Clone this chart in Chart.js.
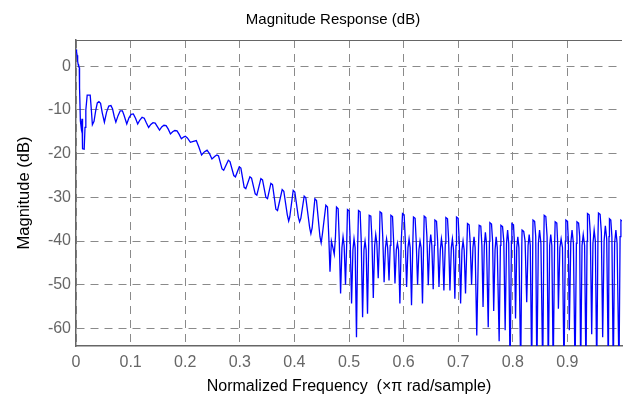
<!DOCTYPE html>
<html>
<head>
<meta charset="utf-8">
<script src="https://cdn.jsdelivr.net/npm/chart.js@4/dist/chart.umd.min.js"></script>
<style>
  html, body { margin: 0; padding: 0; background: #fff; }
  #wrap { width: 626px; height: 397px; }
</style>
</head>
<body>
<div id="wrap"><canvas id="c" width="626" height="397"></canvas></div>
<script>
// Normalized frequency (x pi rad/sample)
const freq = [
  0.000, 0.001, 0.002, 0.003, 0.004, 0.005, 0.006, 0.0065, 0.008, 0.0095,
  0.011, 0.012, 0.015, 0.0165, 0.018, 0.0205, 0.026, 0.028, 0.030, 0.033,
  0.036, 0.039, 0.042, 0.045, 0.048, 0.052, 0.056, 0.060, 0.064, 0.067,
  0.070, 0.073, 0.077, 0.081, 0.085, 0.088, 0.093, 0.097, 0.101, 0.105,
  0.109, 0.113, 0.117, 0.121, 0.125, 0.129, 0.133, 0.137, 0.141, 0.145,
  0.149, 0.153, 0.157, 0.161, 0.165, 0.169, 0.173, 0.177, 0.181, 0.185,
  0.189, 0.193, 0.197, 0.2002,
  0.2040, 0.2095, 0.2150, 0.2203, 0.2250, 0.2300, 0.2350, 0.2400, 0.2445, 0.2490,
  0.2545,
  0.2580, 0.2610, 0.2675, 0.2705,
  0.2790, 0.2820, 0.2890, 0.2920,
  0.2990, 0.3020, 0.3080, 0.3110,
  0.3185, 0.3215, 0.3282, 0.3312,
  0.3386, 0.3416, 0.3478, 0.3508,
  0.3569, 0.3599, 0.3661, 0.3691,
  0.3776, 0.3806, 0.3870, 0.3895, 0.3915,
  0.3978, 0.4008, 0.4072, 0.4095, 0.4118,
  0.4179, 0.4209, 0.4280, 0.4302, 0.4325,
  0.4375, 0.4405, 0.4468, 0.4490, 0.4512,
  0.4576, 0.4606, 0.4630, 0.4652, 0.4678, 0.4705, 0.4730, 0.4752,
  0.4771, 0.4801, 0.4821, 0.4846, 0.4871, 0.4891, 0.4911, 0.4936, 0.4958,
  0.4972, 0.5002, 0.5022, 0.5047, 0.5072, 0.5092, 0.5112, 0.5137, 0.5159,
  0.5174, 0.5204, 0.5224, 0.5249, 0.5274, 0.5294, 0.5314, 0.5339, 0.5361,
  0.5370, 0.5400, 0.5420, 0.5445, 0.5470, 0.5490, 0.5510, 0.5535, 0.5557,
  0.5568, 0.5598, 0.5618, 0.5643, 0.5668, 0.5688, 0.5708, 0.5733, 0.5755,
  0.5767, 0.5797, 0.5817, 0.5842, 0.5867, 0.5887, 0.5907, 0.5932, 0.5956,
  0.5980, 0.6010, 0.6030, 0.6055, 0.6080, 0.6100, 0.6120, 0.6145, 0.6168,
  0.6181, 0.6211, 0.6231, 0.6256, 0.6281, 0.6301, 0.6321, 0.6346, 0.6368,
  0.6377, 0.6407, 0.6427, 0.6452, 0.6477, 0.6497, 0.6517, 0.6542, 0.6564,
  0.6573, 0.6603, 0.6623, 0.6648, 0.6673, 0.6693, 0.6713, 0.6738, 0.6764,
  0.6774, 0.6804, 0.6824, 0.6849, 0.6874, 0.6894, 0.6914, 0.6939, 0.6960,
  0.6969, 0.6999, 0.7019, 0.7044, 0.7069, 0.7089, 0.7109, 0.7134, 0.7160,
  0.7170, 0.7200, 0.7220, 0.7245, 0.7270, 0.7290, 0.7310, 0.7340, 0.7372,
  0.7384, 0.7414, 0.7434, 0.7455, 0.7478, 0.7498, 0.7518, 0.7550, 0.7572,
  0.7580, 0.7610, 0.7630, 0.7650, 0.7675, 0.7695, 0.7715, 0.7750, 0.7773,
  0.7782, 0.7812, 0.7835, 0.7860, 0.7885, 0.7905, 0.7925, 0.7950, 0.7975,
  0.7983, 0.8013, 0.8030, 0.8050, 0.8072, 0.8092, 0.8112, 0.8145, 0.8165,
  0.8170, 0.8200, 0.8225, 0.8255, 0.8280, 0.8300, 0.8320, 0.8346, 0.8366,
  0.8370, 0.8400, 0.8420, 0.8440, 0.8468, 0.8490, 0.8515, 0.8548, 0.8568,
  0.8575, 0.8605, 0.8628, 0.8650, 0.8675, 0.8695, 0.8715, 0.8740, 0.8765,
  0.8776, 0.8806, 0.8820, 0.8835, 0.8862, 0.8885, 0.8910, 0.8938, 0.8962,
  0.8972, 0.9002, 0.9018, 0.9035, 0.9062, 0.9085, 0.9110, 0.9140, 0.9165,
  0.9175, 0.9205, 0.9225, 0.9243, 0.9268, 0.9290, 0.9315, 0.9340, 0.9360,
  0.9368, 0.9398, 0.9420, 0.9445, 0.9468, 0.9490, 0.9512, 0.9537, 0.9560,
  0.9569, 0.9599, 0.9622, 0.9646, 0.9672, 0.9695, 0.9720, 0.9750, 0.9762,
  0.9770, 0.9795, 0.9815, 0.9840, 0.9865, 0.9888, 0.9910, 0.9945, 0.9965,
  0.9980, 1.0000
];

// Magnitude (dB)
const magDb = [
  3.8, 3.3, 2.5, 1.2, 0.4, 0.0, -0.3, -5.0, -12.5, -14.0,
  -12.0, -18.9, -19.0, -14.0, -10.0, -6.6, -6.6, -9.8, -13.4, -12.6,
  -10.2, -8.4, -8.1, -8.5, -10.6, -12.8, -10.5, -9.1, -9.0, -9.8,
  -11.5, -12.8, -11.3, -10.2, -10.2, -11.2, -13.2, -11.8, -11.0, -10.9,
  -11.9, -13.2, -12.3, -11.7, -11.9, -13.0, -14.0, -13.3, -12.9, -13.0,
  -13.8, -14.6, -13.9, -13.5, -13.6, -14.4, -15.5, -15.0, -14.7, -14.8,
  -15.6, -16.6, -16.2, -16.0,
  -16.4, -17.4, -17.2, -17.0, -18.5, -20.3, -19.6, -19.2, -20.0, -21.2,
  -20.6,
  -20.3, -20.5, -23.5, -23.8,
  -21.5, -21.8, -25.0, -25.3,
  -23.0, -23.3, -27.7, -28.0,
  -25.3, -25.6, -29.2, -29.5,
  -25.7, -26.0, -30.0, -30.3,
  -26.8, -27.1, -32.7, -33.0,
  -28.2, -28.6, -34.0, -35.4, -34.5,
  -28.4, -28.8, -34.5, -35.6, -34.8,
  -29.7, -30.1, -37.0, -38.3, -37.0,
  -30.3, -30.7, -39.0, -40.4, -38.5,
  -31.8, -32.2, -39.0, -47.0, -40.0, -41.5, -43.0, -39.0,
  -32.2, -32.6, -39.5, -52.0, -41.5, -39.0, -41.0, -50.0, -40.5,
  -32.8, -33.1, -40.0, -54.3, -42.0, -39.5, -41.5, -62.0, -41.0,
  -33.0, -33.3, -40.0, -57.4, -42.0, -40.0, -42.0, -56.6, -40.5,
  -34.1, -34.3, -39.5, -53.0, -41.0, -38.5, -40.5, -48.5, -40.0,
  -33.3, -33.6, -39.0, -49.4, -41.5, -39.5, -41.5, -49.0, -41.0,
  -34.1, -34.4, -40.0, -49.7, -42.0, -40.5, -42.0, -54.3, -40.5,
  -33.7, -34.0, -39.5, -50.5, -41.5, -39.5, -41.5, -54.7, -41.0,
  -34.5, -34.8, -40.0, -50.0, -42.0, -40.0, -41.5, -54.3, -40.0,
  -34.3, -34.6, -39.0, -50.1, -41.0, -38.5, -41.0, -51.0, -41.0,
  -35.2, -35.5, -40.0, -50.5, -42.0, -39.5, -41.5, -51.3, -40.5,
  -34.6, -34.9, -39.5, -51.3, -41.5, -39.5, -42.0, -53.2, -41.0,
  -34.5, -34.8, -40.0, -54.3, -42.0, -40.0, -42.0, -52.0, -40.5,
  -36.0, -36.3, -40.5, -50.0, -41.5, -39.0, -41.5, -61.6, -41.0,
  -36.4, -36.6, -41.0, -55.1, -41.0, -38.0, -40.5, -59.7, -40.0,
  -35.8, -36.1, -40.0, -56.0, -42.0, -39.0, -41.5, -62.9, -41.0,
  -36.4, -36.7, -40.0, -60.4, -40.5, -37.5, -40.5, -70.0, -40.0,
  -36.0, -36.3, -40.5, -57.7, -41.5, -39.0, -41.5, -70.0, -41.0,
  -37.5, -37.8, -40.0, -54.0, -41.0, -38.5, -41.0, -70.0, -40.0,
  -35.2, -35.5, -39.0, -70.0, -40.5, -37.5, -40.5, -70.0, -40.0,
  -34.1, -34.4, -39.0, -70.0, -41.0, -38.5, -41.0, -70.0, -41.0,
  -35.6, -35.9, -40.0, -55.5, -41.5, -39.5, -41.5, -70.0, -40.0,
  -35.2, -35.5, -40.0, -60.4, -40.5, -37.5, -40.5, -70.0, -40.5,
  -35.6, -35.9, -39.0, -70.0, -41.0, -38.5, -41.0, -70.0, -40.0,
  -33.7, -34.0, -38.5, -61.3, -40.5, -37.5, -40.0, -70.0, -39.0,
  -33.6, -33.9, -38.0, -62.0, -40.0, -36.5, -39.5, -70.0, -39.0,
  -34.9, -35.2, -39.0, -70.0, -40.5, -37.5, -40.5, -70.0, -39.0,
  -35.2, -35.4
];

const xTickValues = [0, 0.1, 0.2, 0.3, 0.4, 0.5, 0.6, 0.7, 0.8, 0.9];
const xTickLabels = ['0', '0.1', '0.2', '0.3', '0.4', '0.5', '0.6', '0.7', '0.8', '0.9'];
const yTickValues = [-60, -50, -40, -30, -20, -10, 0];
const yTickLabels = ['-60', '-50', '-40', '-30', '-20', '-10', '0'];
const chartTitle = 'Magnitude Response (dB)';

const FONT = '"Liberation Sans", Arial, Helvetica, sans-serif';

const points = freq.map((f, i) => ({ x: f, y: magDb[i] }));

const frameAndTitle = {
  id: 'frameAndTitle',
  afterDraw(chart) {
    const { ctx, chartArea } = chart;
    ctx.save();
    ctx.strokeStyle = '#666';
    ctx.lineWidth = 1.2;
    ctx.beginPath();
    ctx.moveTo(chartArea.left, chartArea.top + 0.5);
    ctx.lineTo(chartArea.right, chartArea.top + 0.5);
    ctx.stroke();
    ctx.fillStyle = '#000';
    ctx.font = '15px ' + FONT;
    ctx.textAlign = 'center';
    ctx.textBaseline = 'middle';
    ctx.fillText(chartTitle, 333, 19.5);
    ctx.restore();
  }
};

new Chart(document.getElementById('c'), {
  type: 'line',
  data: {
    datasets: [{
      data: points,
      borderColor: '#0000ff',
      borderWidth: 1.3,
      pointRadius: 0,
      tension: 0,
      fill: false
    }]
  },
  options: {
    responsive: false,
    animation: false,
    devicePixelRatio: 1,
    layout: { padding: { left: 0, right: 4, top: 40, bottom: 0 } },
    plugins: {
      legend: { display: false },
      tooltip: { enabled: false },
      title: { display: false }
    },
    scales: {
      x: {
        type: 'linear',
        min: 0,
        max: 1,
        afterBuildTicks(scale) {
          scale.ticks = xTickValues.map(v => ({ value: v }));
        },
        afterFit(scale) { scale.height = 51; },
        ticks: {
          color: '#666',
          font: { family: FONT, size: 16 },
          padding: 7,
          maxRotation: 0,
          autoSkip: false,
          callback: (v) => xTickLabels[xTickValues.indexOf(v)] ?? ''
        },
        grid: { color: '#8a8a8a', lineWidth: 1, drawTicks: false },
        border: { display: true, color: '#666', width: 1.5, dash: [8, 6] },
        title: {
          display: true,
          text: 'Normalized Frequency  (\u00D7\u03C0 rad/sample)',
          color: '#000',
          font: { family: FONT, size: 16 },
          padding: { top: 0, bottom: 1 }
        }
      },
      y: {
        type: 'linear',
        min: -64,
        max: 6,
        afterBuildTicks(scale) {
          scale.ticks = yTickValues.map(v => ({ value: v }));
        },
        afterFit(scale) { scale.width = 76; },
        ticks: {
          color: '#666',
          font: { family: FONT, size: 16 },
          padding: 5,
          callback: (v) => yTickLabels[yTickValues.indexOf(v)] ?? ''
        },
        grid: { color: '#8a8a8a', lineWidth: 1, drawTicks: false },
        border: { display: true, color: '#666', width: 1.5, dash: [8, 6] },
        title: {
          display: true,
          text: 'Magnitude (dB)',
          color: '#000',
          font: { family: FONT, size: 16.5 },
          padding: { top: 15, bottom: 0 }
        }
      }
    }
  },
  plugins: [frameAndTitle]
});
</script>
</body>
</html>
